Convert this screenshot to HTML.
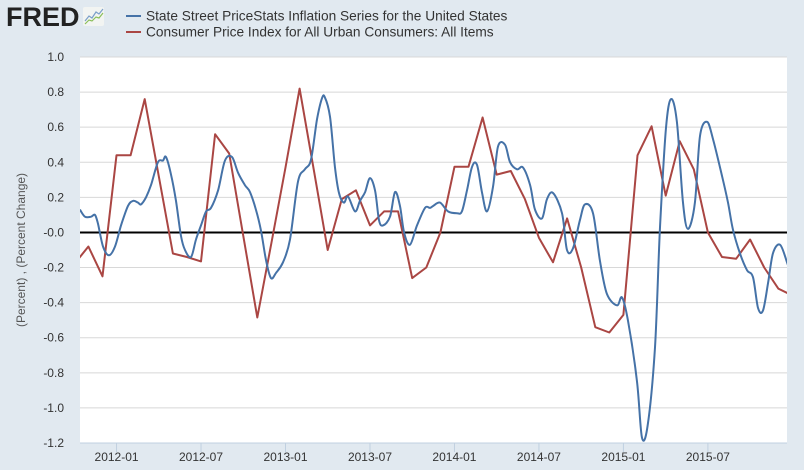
<!DOCTYPE html>
<html><head><meta charset="utf-8"><style>
html,body{margin:0;padding:0;background:#e1e9f0;}
svg{display:block;font-family:"Liberation Sans","DejaVu Sans",sans-serif;}
</style></head><body>
<svg id="chart" width="804" height="470" viewBox="0 0 804 470">
  <rect x="0" y="0" width="804" height="470" fill="#e1e9f0"/>
  <g>
    <text x="6" y="26" font-size="27" font-weight="bold" fill="#222" font-family="'Liberation Sans',sans-serif">FRED</text>
    <rect x="83" y="7" width="21" height="19" fill="#f2f4f2" rx="2"/>
    <polyline points="85,21 89,16 92,18 96,12 99,14 103,9" fill="none" stroke="#7a9ec8" stroke-width="1.2"/>
    <polyline points="85,24 89,20 92,21 96,17 99,18 103,13" fill="none" stroke="#8bbf5a" stroke-width="1.2"/>
  </g>
  <g>
    <g>
      <line x1="126" y1="16" x2="141" y2="16" stroke="#4572a7" stroke-width="2"/>
      <text x="146" y="20.5" font-size="13.7" fill="#333">State Street PriceStats Inflation Series for the United States</text>
    </g>
    <g>
      <line x1="126" y1="32" x2="141" y2="32" stroke="#aa4643" stroke-width="2"/>
      <text x="146" y="36.5" font-size="13.7" fill="#333">Consumer Price Index for All Urban Consumers: All Items</text>
    </g>
  </g>
  <rect x="80" y="57" width="707" height="386" fill="#fff"/>
  <g id="grid"></g>
  <g id="yticks"></g>
  <g id="xticks"></g>
  <text x="0" y="0" transform="translate(25,250) rotate(-90)" text-anchor="middle" font-size="12" fill="#555">(Percent) , (Percent Change)</text>
  <g id="series"></g>
</svg>
<script>
// month index 0 = 2011-10
const yTicks = [1.0,0.8,0.6,0.4,0.2,0,-0.2,-0.4,-0.6,-0.8,-1.0,-1.2];
const yTickLabels = ["1.0","0.8","0.6","0.4","0.2","-0.0","-0.2","-0.4","-0.6","-0.8","-1.0","-1.2"];
const xTickMonths = [3,9,15,21,27,33,39,45];
const xTickLabels = ["2012-01","2012-07","2013-01","2013-07","2014-01","2014-07","2015-01","2015-07"];
const cpiMonths = [0,1,2,3,4,5,6,7,8,9,10,11,12,13,14,15,16,17,18,19,20,21,22,23,24,25,26,27,28,29,30,31,32,33,34,35,36,37,38,39,40,41,42,43,44,45,46,47,48,49,50,51];
const cpiValues = [-0.18,-0.08,-0.25,0.44,0.44,0.76,0.32,-0.12,-0.14,-0.165,0.56,0.45,-0.02,-0.485,-0.06,0.37,0.82,0.36,-0.10,0.19,0.24,0.04,0.12,0.12,-0.26,-0.20,0.0,0.375,0.375,0.655,0.33,0.35,0.19,-0.03,-0.17,0.08,-0.20,-0.54,-0.57,-0.47,0.44,0.605,0.21,0.52,0.36,0.0,-0.14,-0.15,-0.04,-0.20,-0.32,-0.36];
const pxMonths = [0.40,0.76,1.19,1.47,1.68,2.04,2.46,2.89,3.32,3.81,4.17,4.52,4.74,5.09,5.45,5.94,6.30,6.51,6.87,7.22,7.58,7.86,8.29,8.64,9.00,9.36,9.71,10.21,10.70,11.20,11.63,12.12,12.48,12.90,13.26,13.62,13.97,14.33,14.82,15.32,15.89,16.38,16.81,17.24,17.59,17.80,18.16,18.51,18.80,19.15,19.44,19.94,20.29,20.65,21.00,21.36,21.64,21.93,22.42,22.78,23.13,23.42,23.84,24.34,24.91,25.26,25.47,25.97,26.54,27.18,27.53,27.89,28.25,28.60,28.96,29.31,29.74,30.09,30.59,30.95,31.44,31.87,32.37,32.72,33.22,33.57,34.00,34.64,34.99,35.42,35.91,36.27,36.84,37.33,37.83,38.54,38.90,39.32,39.96,40.32,40.74,41.24,41.60,42.02,42.38,42.80,43.23,43.59,44.08,44.44,44.94,45.37,46.01,46.43,46.78,47.28,47.78,48.20,48.56,48.91,49.27,49.62,50.12,50.62,51.0];
const pxValues = [0.13,0.09,0.09,0.10,0.05,-0.08,-0.13,-0.08,0.04,0.15,0.18,0.17,0.16,0.20,0.27,0.40,0.41,0.43,0.33,0.18,-0.02,-0.10,-0.14,-0.04,0.04,0.12,0.14,0.24,0.41,0.43,0.34,0.27,0.23,0.13,0.01,-0.16,-0.26,-0.23,-0.17,-0.04,0.29,0.36,0.415,0.645,0.765,0.77,0.66,0.375,0.225,0.17,0.205,0.12,0.18,0.23,0.31,0.24,0.07,0.04,0.09,0.23,0.15,0.0,-0.07,0.04,0.14,0.14,0.15,0.17,0.12,0.11,0.12,0.24,0.375,0.385,0.225,0.12,0.26,0.49,0.50,0.40,0.36,0.37,0.27,0.13,0.08,0.19,0.225,0.11,-0.10,-0.09,0.07,0.16,0.11,-0.16,-0.35,-0.415,-0.37,-0.50,-0.845,-1.17,-1.09,-0.655,0.03,0.59,0.76,0.63,0.17,0.02,0.17,0.55,0.63,0.53,0.32,0.17,0.015,-0.12,-0.215,-0.255,-0.43,-0.445,-0.29,-0.12,-0.07,-0.17,-0.27,-0.32];

const NS="http://www.w3.org/2000/svg";
const PL=80, PR=787, PT=57, PB=443;
const xScale = m => 74.3 + 14.08*m;
const yScale = v => PT + (1.0 - v) * (PB-PT)/2.2;
function mk(tag, attrs, parent){const e=document.createElementNS(NS,tag);for(const k in attrs)e.setAttribute(k,attrs[k]);parent.appendChild(e);return e;}
const grid=document.getElementById('grid'), yt=document.getElementById('yticks'), xt=document.getElementById('xticks'), ser=document.getElementById('series');
yTicks.forEach((v,i)=>{
  const y=yScale(v);
  if(v!==0){const g=mk('line',{x1:PL,x2:PR,y1:y,y2:y,stroke:'#d8d8d8','stroke-width':1},grid);
  
  }
  const t=mk('text',{x:64,y:y+4,'text-anchor':'end','font-size':12,fill:'#333'},yt);
  t.textContent=yTickLabels[i];
  
  
});
const base=mk('line',{x1:PL,x2:PR,y1:PB,y2:PB,stroke:'#c0d0e0','stroke-width':1},xt);


xTickMonths.forEach((m,i)=>{
  const x=xScale(m);
  const tk=mk('line',{x1:x,x2:x,y1:PB,y2:PB+9,stroke:'#c0d0e0','stroke-width':1},xt);
  
  
  const t=mk('text',{x:x,y:PB+18,'text-anchor':'middle','font-size':12,fill:'#333'},xt);
  t.textContent=xTickLabels[i];
  
  
});
const zero=mk('line',{x1:PL,x2:PR,y1:yScale(0),y2:yScale(0),stroke:'#000','stroke-width':2},ser);


const clip=mk('clipPath',{id:'pc'},ser);
mk('rect',{x:PL,y:PT-5,width:PR-PL,height:PB-PT+10},clip);
const cpiPts=cpiMonths.map((m,i)=>xScale(m).toFixed(1)+','+yScale(cpiValues[i]).toFixed(1)).join(' ');
const cpi=mk('polyline',{points:cpiPts,fill:'none',stroke:'#aa4643','stroke-width':2,'stroke-linejoin':'round','clip-path':'url(#pc)'},ser);


const P=pxMonths.map((m,i)=>[xScale(m),yScale(pxValues[i])]);
let d='M'+P[0][0].toFixed(1)+','+P[0][1].toFixed(1);
for(let i=0;i<P.length-1;i++){
  const p0=P[i-1]||P[i], p1=P[i], p2=P[i+1], p3=P[i+2]||P[i+1];
  const c1=[p1[0]+(p2[0]-p0[0])/6,p1[1]+(p2[1]-p0[1])/6], c2=[p2[0]-(p3[0]-p1[0])/6,p2[1]-(p3[1]-p1[1])/6];
  d+=' C'+c1[0].toFixed(1)+','+c1[1].toFixed(1)+' '+c2[0].toFixed(1)+','+c2[1].toFixed(1)+' '+p2[0].toFixed(1)+','+p2[1].toFixed(1);
}
const px=mk('path',{d:d,fill:'none',stroke:'#4572a7','stroke-width':2,'stroke-linejoin':'round','clip-path':'url(#pc)'},ser);


</script>
</body></html>
